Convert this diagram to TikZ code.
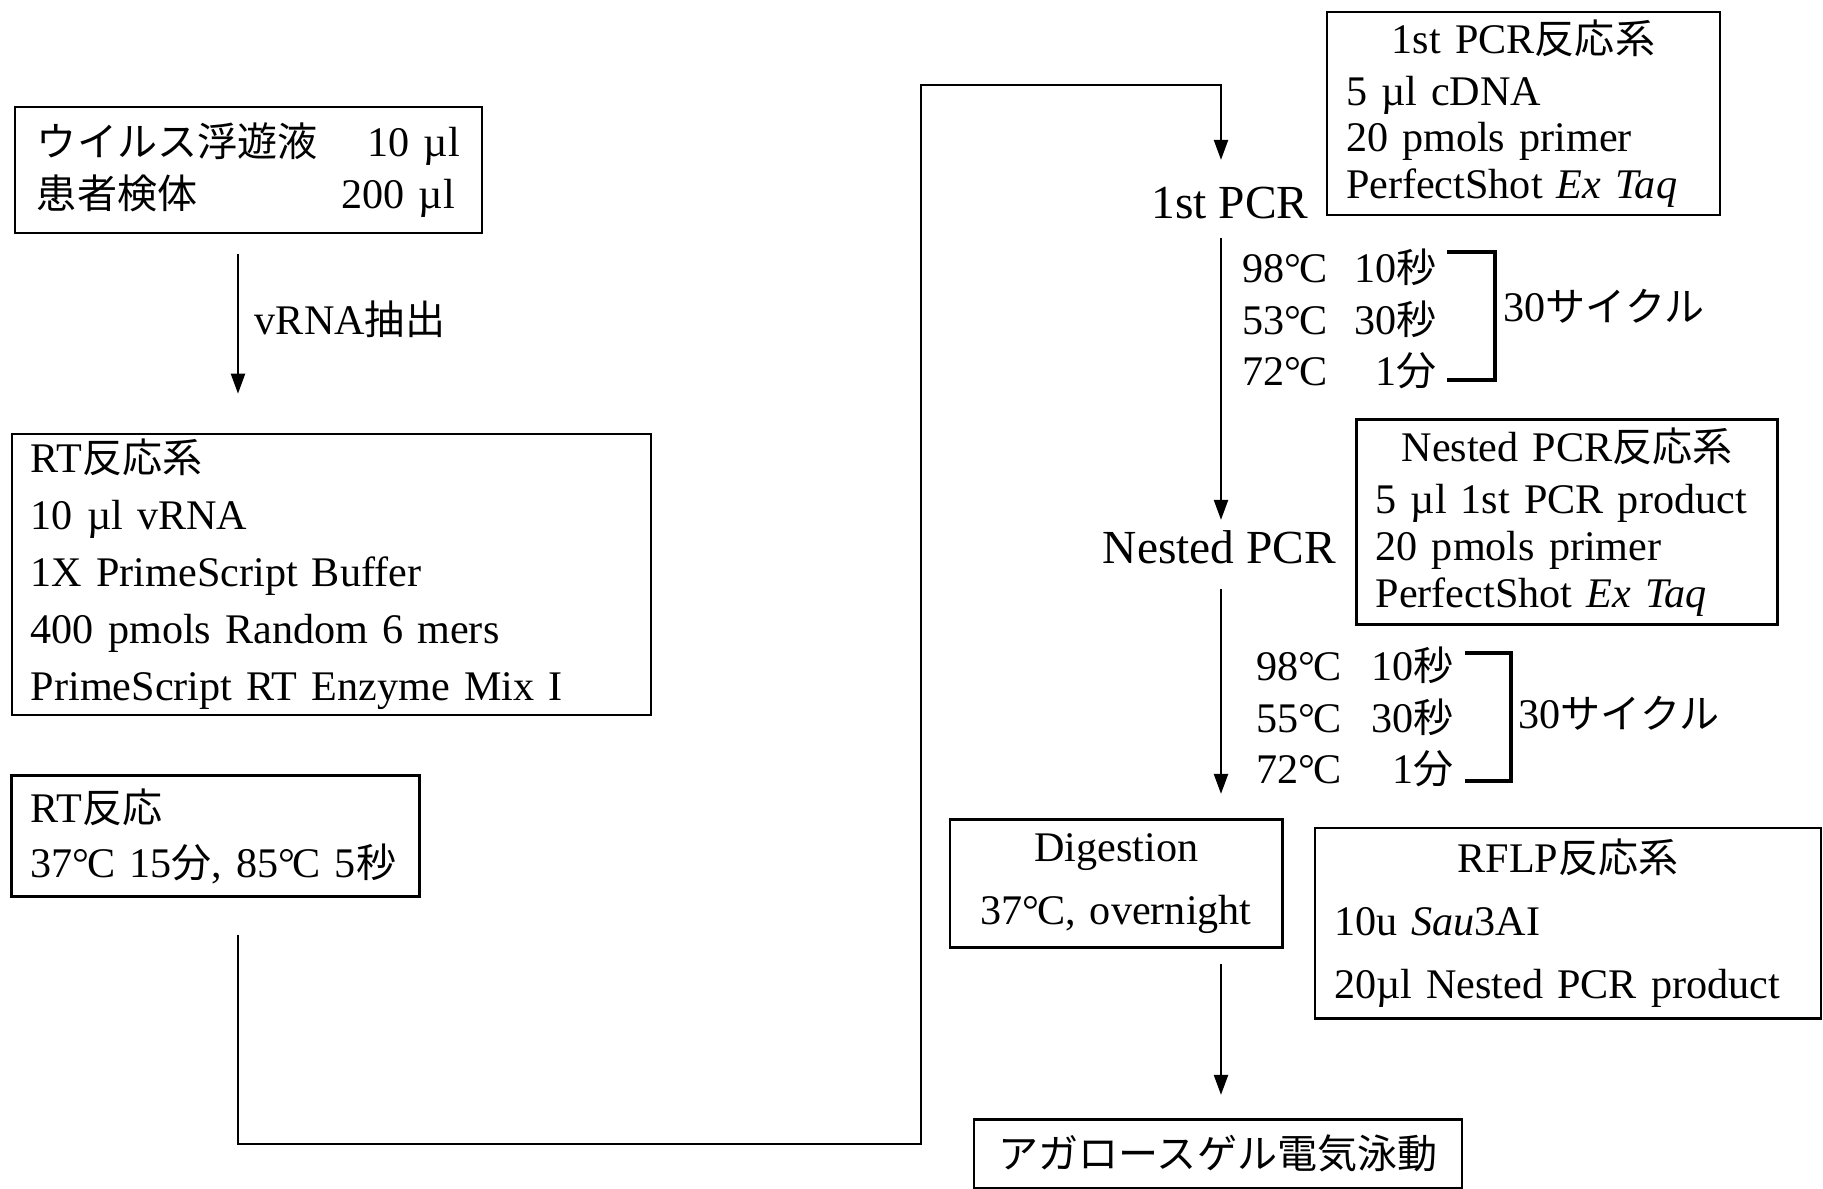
\documentclass[tikz,border=0pt]{standalone}
\usepackage{fontspec}
\setmainfont{Liberation Serif}
\newfontfamily\jpfont[Scale=0.95]{Noto Sans CJK JP}
\newcommand{\ja}[1]{{\jpfont #1}}
\newcommand{\degc}{°\kern-0.06em C}
\newcommand{\ctitle}[1]{\makebox[\hsize][c]{#1}}
\usetikzlibrary{arrows.meta}

\begin{document}
\begin{tikzpicture}[
  box/.style={draw, line width=0.7pt, inner xsep=0.19cm, inner ysep=0.02cm, align=left},
  flow/.style={line width=0.65pt, -{Triangle[width=0.14cm,length=0.2cm]}},
  stage/.style={inner sep=0pt, anchor=base, font=\fontsize{13.5}{16}\selectfont},
  steps/.style={inner sep=0pt, anchor=west, align=left, text width=#1, font=\fontsize{12}{14.6}\selectfont},
  bracketline/.style={line width=0.9pt},
  ]
  \useasboundingbox (0,0) rectangle (18.23,-11.89);
  \coordinate (laxis) at (2.38,0);
  \coordinate (raxis) at (12.21,0);
  \coordinate (low) at (9.21,-11.44);
  \coordinate (high) at (9.21,-0.85);

  \node[box, minimum width=4.67cm, minimum height=1.26cm, text width=4.23cm, inner xsep=0.22cm,
    font=\fontsize{12}{14.8}\selectfont] (virus) at (2.485,-1.70)
    {\ja{ウイルス浮遊液}\hfill 10 µl\\\ja{患者検体}\hfill 200 µl\kern0.05cm};
  \node[box, minimum width=6.39cm, minimum height=2.81cm, text width=6.01cm,
    font=\fontsize{12}{16.2}\selectfont] (rtmix) at (3.313,-5.744)
    {RT\ja{反応系}\\10 µl vRNA\\1X PrimeScript Buffer\\400 pmols Random 6 mers\\PrimeScript RT Enzyme Mix I};
  \node[box, minimum width=4.08cm, minimum height=1.21cm, text width=3.70cm,
    font=\fontsize{12}{15.6}\selectfont] (rtrxn) at (2.157,-8.36)
    {RT\ja{反応}\\37\degc{} 15\ja{分}, 85\degc{} 5\ja{秒}};

  \node[stage] (pcr1) at (12.30,-2.18) {1st PCR};
  \node[box, minimum width=3.93cm, minimum height=2.03cm, text width=3.55cm,
    font=\fontsize{12}{13.3}\selectfont] (pcr1mix) at (15.235,-1.135)
    {\ctitle{1st PCR\ja{反応系}}\\[1.5pt]5 µl cDNA\\20 pmols primer\\PerfectShot \textit{Ex Taq}};
  \node[steps=1.94cm] (cyc1) at (12.42,-3.19)
    {98\degc\hfill 10\ja{秒}\\53\degc\hfill 30\ja{秒}\\72\degc\hfill 1\ja{分}};
  \draw[bracketline] (14.47,-2.52) -| (14.95,-3.80) -- (14.47,-3.80);
  \node[anchor=west, inner sep=0pt, font=\fontsize{12}{14}\selectfont] (cyc1n) at (15.03,-3.06) {30\ja{サイクル}};

  \node[stage] (nested) at (12.195,-5.635) {Nested PCR};
  \node[box, minimum width=4.21cm, minimum height=2.05cm, text width=3.83cm,
    font=\fontsize{12}{13.3}\selectfont] (nestedmix) at (15.672,-5.22)
    {\ctitle{Nested PCR\ja{反応系}}\\[1.5pt]5 µl 1st PCR product\\20 pmols primer\\PerfectShot \textit{Ex Taq}};
  \node[steps=1.97cm] (cyc2) at (12.56,-7.17)
    {98\degc\hfill 10\ja{秒}\\55\degc\hfill 30\ja{秒}\\72\degc\hfill 1\ja{分}};
  \draw[bracketline] (14.65,-6.53) -| (15.11,-7.81) -- (14.65,-7.81);
  \node[anchor=west, inner sep=0pt, font=\fontsize{12}{14}\selectfont] (cyc2n) at (15.18,-7.13) {30\ja{サイクル}};

  \node[box, align=center, minimum width=3.325cm, minimum height=1.28cm, text width=2.945cm,
    font=\fontsize{12}{18}\selectfont] (digest) at (11.162,-8.836)
    {Digestion\\37\degc, overnight};
  \node[box, minimum width=5.06cm, minimum height=1.906cm, text width=4.68cm,
    font=\fontsize{12}{17.8}\selectfont] (rflp) at (15.68,-9.231)
    {\ctitle{RFLP\ja{反応系}}\\10u \textit{Sau}3AI\\20µl Nested PCR product};
  \node[box, align=center, minimum width=4.88cm, minimum height=0.684cm,
    font=\fontsize{12}{14}\selectfont] (gel) at (12.18,-11.538)
    {\ja{アガロースゲル電気泳動}};

  \draw[flow, shorten <=0.2cm, shorten >=0.39cm] (virus.south -| laxis) -- (rtmix.north -| laxis)
    node[pos=0.43, right=0.04cm, font=\fontsize{12}{14}\selectfont] (extract) {vRNA\ja{抽出}};
  \draw[flow, shorten <=0.37cm, shorten >=0.26cm] (rtrxn.south -| laxis) |- (low) |- (raxis |- high) -- (pcr1.north -| raxis);
  \draw[flow, shorten <=0.19cm, shorten >=0.1cm] (pcr1.south -| raxis) -- (nested.north -| raxis);
  \draw[flow, shorten <=0.245cm, shorten >=0.245cm] (nested.south -| raxis) -- (digest.north -| raxis);
  \draw[flow, shorten <=0.15cm, shorten >=0.235cm] (digest.south -| raxis) -- (gel.north -| raxis);
\end{tikzpicture}
\end{document}
